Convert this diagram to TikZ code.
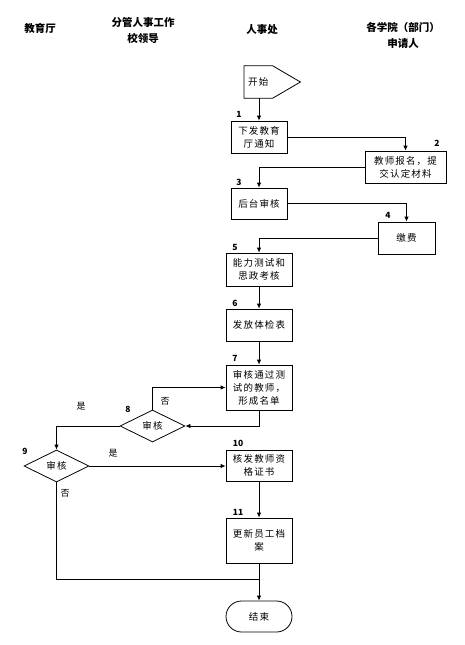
\documentclass[tikz,border=0pt]{standalone}
\usepackage{fontspec}
\setmainfont{Noto Sans CJK SC}
\newfontfamily\boxfont{Noto Sans CJK SC}[LetterSpace=12]
\usetikzlibrary{arrows.meta,shapes.geometric}

\tikzset{
  box/.style={draw, thick, minimum width=66pt, align=center, inner sep=1pt,
    font=\boxfont\fontsize{9.5}{13}\selectfont},
  dec/.style={draw, thick, diamond, minimum width=65pt, minimum height=32pt, inner sep=0pt,
    font=\boxfont\fontsize{9.5}{13}\selectfont},
  head/.style={align=center, font=\bfseries\fontsize{10.5}{16}\selectfont},
  num/.style={font=\bfseries\fontsize{8.5}{10}\selectfont},
  lbl/.style={font=\fontsize{9}{11}\selectfont},
  arr/.style={thick, -{Latex[length=5pt,width=4.5pt]}},
  ln/.style={thick}
}

\begin{document}
\begin{tikzpicture}[x=1pt, y=-1pt]
    \useasboundingbox (0,0) rectangle (465,645);

    % columns
    \node[head] (h1) at (40,28) {教育厅};
    \node[head] (h2) at (143,30.5) {分管人事工作\\校领导};
    \node[head] (h3) at (262,30) {人事处};
    \node[head] (h4) at (403,35) {各学院（部门）\\申请人};

    % start
    \node[minimum width=56pt, minimum height=32pt, anchor=west, text width=48pt, inner xsep=4pt,
      align=left, font=\boxfont\fontsize{9.5}{13}\selectfont] (start) at (244,82) {开始};
    \draw[ln] (start.north west) -- ([xshift=28.7pt]start.north west) -- (start.east)
      -- ([xshift=28.7pt]start.south west) -- (start.south west) -- cycle;

    \node[box, minimum width=56pt, minimum height=32pt] (b1) at (259,137) {下发教育\\厅通知};
    \node[box, minimum width=81pt, minimum height=32pt] (b2) at (405.5,167) {教师报名，提\\交认定材料};
    \node[box, minimum width=56pt, minimum height=31pt] (b3) at (259,203.5) {后台审核};
    \node[box, minimum width=57pt, minimum height=32pt] (b4) at (406.5,238) {缴费};
    \node[box, minimum height=33pt] (b5) at (259,269.5) {能力测试和\\思政考核};
    \node[box, minimum height=32pt] (b6) at (259,325) {发放体检表};
    \node[box, minimum height=45pt] (b7) at (259,387.5) {审核通过测\\试的教师，\\形成名单};
    \node[dec] (d8) at (152.5,426) {审核};
    \node[dec] (d9) at (56.5,466) {审核};
    \node[box, minimum height=31pt] (b10) at (259,465.5) {核发教师资\\格证书};
    \node[box, minimum height=45pt] (b11) at (259,540.5) {更新员工档\\案};
    \node[box, minimum height=31pt, rounded corners=15.5pt] (end) at (259,616.5) {结束};
    \coordinate (join) at (259,579);

    % step numbers
    \node[num] (n1) at (239,114) {1};
    \node[num] (n2) at (437,143) {2};
    \node[num] (n3) at (239,182) {3};
    \node[num] (n4) at (388,215) {4};
    \node[num] (n5) at (235,247) {5};
    \node[num] (n6) at (235,303) {6};
    \node[num] (n7) at (235,358) {7};
    \node[num] (n8) at (128,409) {8};
    \node[num] (n9) at (25,451) {9};
    \node[num] (n10) at (238,443) {10};
    \node[num] (n11) at (238,512) {11};

    \draw[arr] (start.south -| b1.north) -- (b1.north);
    \draw[arr] (b1.east) -| (b2.north);
    \draw[arr] (b2.west) -| (b3.north);
    \draw[arr] (b3.east) -| (b4.north);
    \draw[arr] (b4.west) -| (b5.north);
    \draw[arr] (b5) -- (b6);
    \draw[arr] (b6) -- (b7);
    \draw[arr] (b7.south) |- (d8.east);
    \draw[arr] (d8.north) |- (b7.west);
    \draw[arr] (d8.west) -| (d9.north);
    \draw[arr] (d9.east) -- (d9.east -| b10.west);
    \draw[arr] (b10) -- (b11);
    \draw[ln] (d9.south) |- (join);
    \draw[arr] (b11) -- (end);

    \node[lbl] (no8) at (165,401) {否};
    \node[lbl] (yes8) at (81,406) {是};
    \node[lbl] (yes9) at (113,453) {是};
    \node[lbl] (no9) at (65,493) {否};
\end{tikzpicture}
\end{document}
